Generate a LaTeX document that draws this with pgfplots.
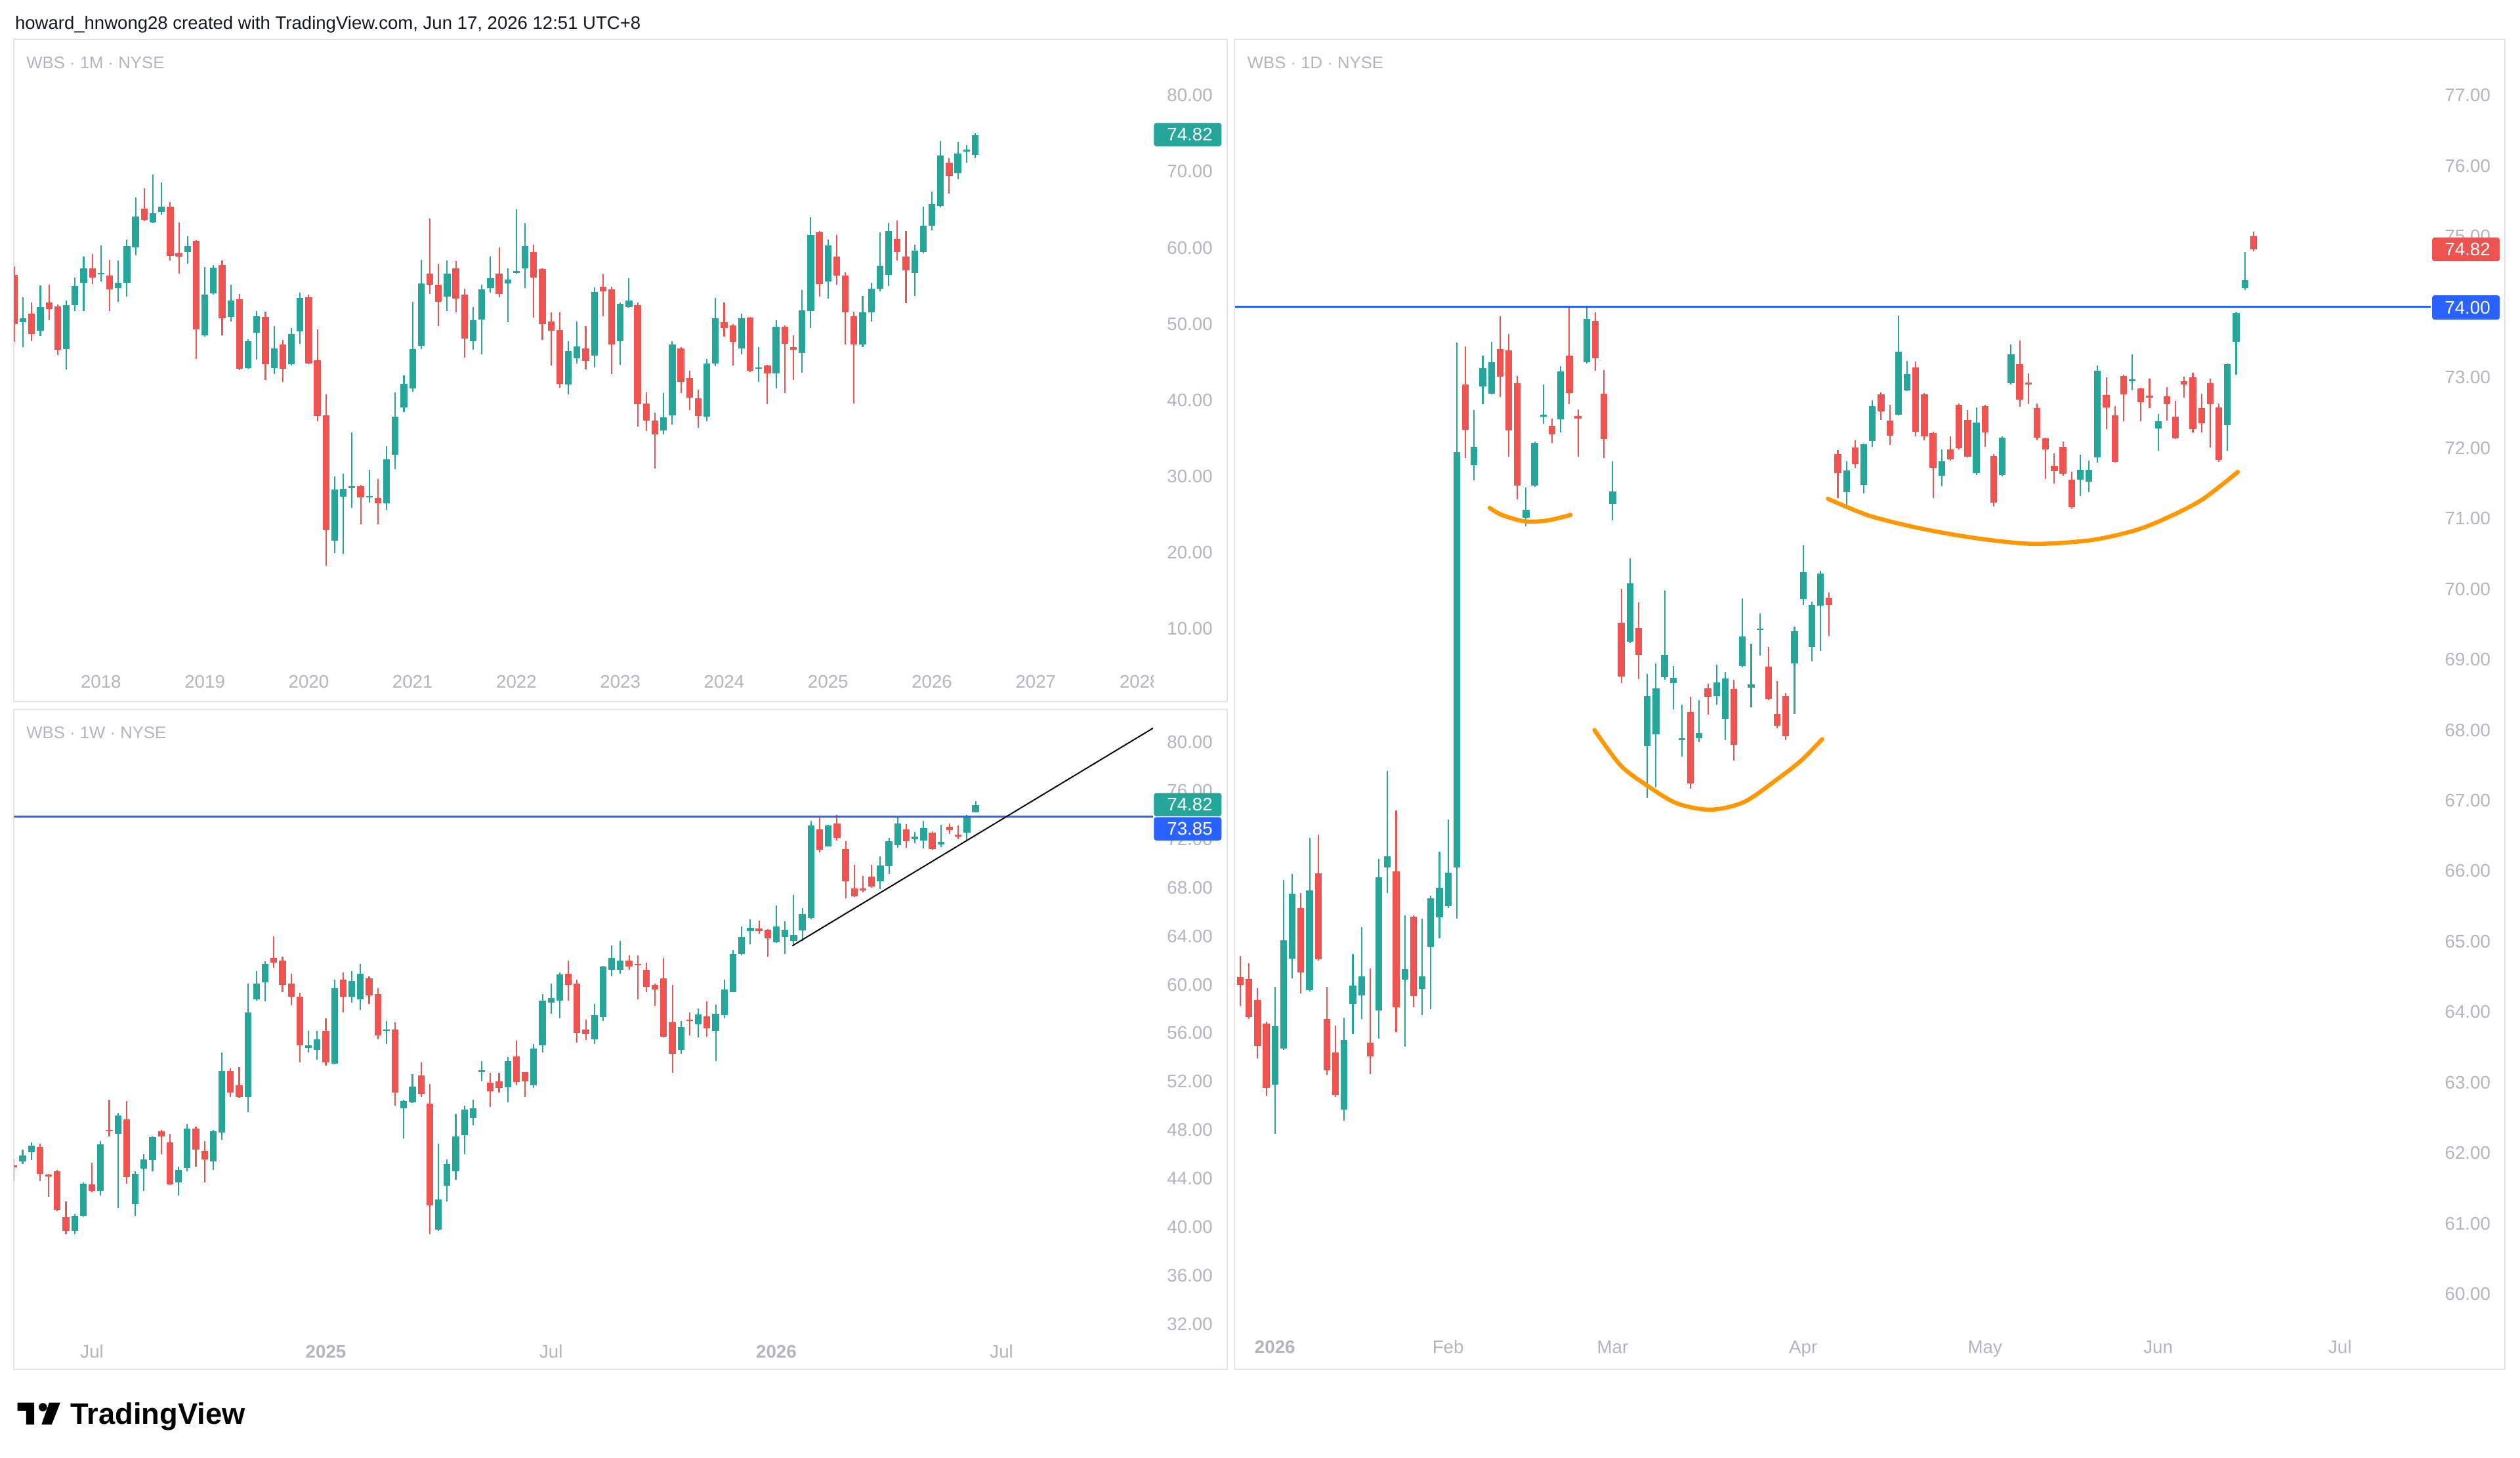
\documentclass[border=0pt]{standalone}
\usepackage{fontspec}
\setmainfont{Liberation Sans}
\usepackage{pgfplots}
\usepackage{pgfplotstable}
\pgfplotsset{compat=1.18}
\definecolor{tvup}{HTML}{26A69A}
\definecolor{tvdown}{HTML}{EF5350}
\definecolor{tvblue}{HTML}{2962FF}
\definecolor{tvorange}{HTML}{FF9800}
\definecolor{tvtext}{HTML}{B2B5BE}
\definecolor{tvborder}{HTML}{E0E3EB}
\definecolor{tvhead}{HTML}{131722}
\newcommand\tvs{\fontsize{11.3}{13}\selectfont}

\pgfplotstableread{
x o h l c
-10 56.4 57.5 47.6 50.0
-9 50.2 53.5 46.9 50.7
-8 51.3 52.8 47.7 48.7
-7 49.1 55.0 48.4 52.2
-6 52.8 55.1 50.5 51.9
-5 52.3 52.5 45.9 46.6
-4 46.7 53.1 44.0 52.5
-3 52.5 56.1 51.7 55.0
-2 55.4 58.8 51.7 57.3
-1 57.3 59.2 55.2 56.1
0 56.5 60.3 55.6 56.7
1 56.3 58.4 51.7 54.5
2 54.7 58.3 52.9 55.4
3 55.4 61.1 53.6 60.2
4 60.0 66.6 59.0 64.1
5 65.1 67.8 63.5 63.7
6 63.3 69.6 63.2 64.5
7 64.7 68.6 64.3 65.4
8 65.4 66.0 58.3 58.9
9 59.3 63.3 56.6 58.8
10 59.4 61.5 57.9 60.2
11 60.9 61.0 45.4 49.3
12 48.5 57.5 48.3 53.8
13 54.0 57.7 53.8 57.4
14 57.7 58.3 48.5 50.7
15 50.9 55.1 50.3 53.1
16 53.2 53.9 43.9 44.1
17 44.2 48.0 44.1 47.7
18 48.8 51.7 45.3 51.0
19 50.9 51.6 42.6 44.7
20 44.2 49.7 43.4 46.8
21 47.3 47.9 42.4 44.1
22 44.7 49.4 44.5 48.7
23 49.0 54.1 47.4 53.4
24 53.5 53.8 44.7 44.8
25 45.2 49.3 37.2 37.9
26 38.0 40.7 18.2 22.9
27 21.5 30.0 19.9 28.2
28 27.3 30.3 19.8 28.3
29 28.5 35.7 25.8 28.6
30 28.7 28.8 23.7 27.2
31 27.2 30.8 26.5 27.4
32 27.1 29.6 23.7 26.4
33 26.4 33.9 25.6 32.2
34 32.8 41.0 30.9 37.8
35 39.0 43.2 38.4 42.1
36 41.5 52.9 41.1 46.7
37 47.1 58.4 46.7 55.3
38 56.6 63.8 53.9 55.1
39 55.1 57.9 49.7 52.9
40 53.6 58.3 51.7 56.6
41 57.3 58.2 51.5 53.3
42 53.8 54.6 45.6 48.1
43 47.7 52.2 46.6 50.5
44 50.6 55.1 46.0 54.5
45 54.7 58.8 54.1 56.0
46 56.6 60.0 53.5 53.9
47 55.3 57.3 50.2 55.8
48 56.7 65.0 56.6 56.9
49 57.3 63.2 54.7 60.2
50 59.4 60.4 50.8 56.1
51 57.2 57.3 47.9 50.0
52 50.3 51.5 44.5 49.1
53 49.2 51.5 41.6 42.1
54 42.0 47.7 40.7 46.4
55 45.5 50.3 44.8 47.0
56 46.8 49.7 44.0 45.1
57 45.8 54.8 44.3 54.2
58 54.9 56.5 51.0 54.3
59 54.5 54.9 43.4 47.3
60 47.7 52.8 44.6 52.6
61 52.2 56.0 52.1 53.1
62 52.5 52.8 36.5 39.4
63 39.5 41.0 35.9 37.3
64 37.3 38.3 31.0 35.5
65 36.0 40.9 35.5 37.7
66 38.0 47.7 36.8 47.3
67 46.8 46.9 40.9 42.4
68 42.9 43.8 38.7 40.3
69 40.2 41.3 36.3 37.9
70 37.8 45.4 37.2 44.8
71 44.8 53.4 44.4 50.7
72 50.2 52.8 48.3 49.4
73 49.8 50.0 44.5 47.6
74 46.8 51.3 46.0 50.7
75 50.8 50.9 43.7 43.8
76 44.1 46.9 42.4 44.3
77 44.5 44.6 39.4 43.5
78 43.5 50.5 41.5 49.6
79 49.6 49.8 40.9 47.4
80 46.9 48.5 42.6 46.6
81 46.2 54.4 43.6 51.8
82 51.7 64.0 49.4 61.7
83 62.0 62.2 53.6 55.2
84 55.6 61.1 53.3 60.3
85 58.8 61.7 55.1 56.3
86 56.3 56.8 47.3 51.5
87 51.0 51.6 39.5 47.3
88 47.3 53.7 46.9 51.5
89 51.5 55.4 50.3 54.6
90 54.6 62.0 54.3 57.6
91 56.4 63.2 55.0 62.2
92 61.2 63.6 58.3 59.4
93 58.8 62.2 52.7 57.0
94 56.7 60.4 53.7 59.6
95 59.4 65.4 59.3 62.9
96 62.9 67.4 62.3 65.7
97 65.5 74.0 65.3 72.1
98 71.2 71.8 67.1 69.4
99 69.8 73.9 69.0 72.4
100 72.7 73.5 71.2 72.8
101 72.2 75.0 71.8 74.82
}\monthly

\pgfplotstableread{
x o h l c
-36 45.05 45.6 43.8 44.95
-35 45.4 46.4 45.2 45.9
-34 46.2 47.0 45.5 46.7
-33 46.6 46.9 43.8 44.4
-32 44.3 44.4 42.5 44.2
-31 44.6 44.7 41.3 41.4
-30 40.8 42.1 39.4 39.7
-29 39.7 41.1 39.4 40.9
-28 40.9 43.7 40.85 43.6
-27 43.5 45.3 42.9 43.0
-26 43.0 47.1 42.6 46.8
-25 48.0 50.5 47.5 47.9
-24 47.7 49.4 41.6 49.2
-23 48.9 50.4 43.6 44.1
-22 41.9 44.6 40.9 44.4
-21 44.8 46.0 43.0 45.6
-20 45.5 47.5 44.6 47.4
-19 47.9 48.0 46.0 47.5
-18 47.0 47.7 43.45 43.5
-17 43.7 45.0 42.6 44.7
-16 44.9 48.5 44.6 48.1
-15 48.1 48.3 45.0 46.4
-14 46.3 47.1 43.7 45.6
-13 45.4 48.0 44.7 47.9
-12 47.8 54.4 47.2 52.9
-11 52.9 53.1 50.7 51.1
-10 51.7 53.2 50.65 50.7
-9 50.7 60.1 49.5 57.7
-8 58.8 61.1 58.7 60.1
-7 60.2 61.9 58.6 61.7
-6 62.2 64.0 61.4 61.8
-5 62.0 62.3 59.4 60.0
-4 60.1 60.9 58.3 59.0
-3 59.0 59.3 53.6 55.0
-2 54.8 56.2 54.4 55.0
-1 54.6 56.2 53.8 55.5
0 56.2 57.2 53.3 53.6
1 53.5 60.4 53.45 59.7
2 60.4 61.0 57.7 59.0
3 59.0 61.1 58.5 60.3
4 58.8 61.7 57.9 60.9
5 60.5 60.7 58.4 59.1
6 59.2 59.7 55.5 55.8
7 56.2 57.0 55.1 56.3
8 56.3 56.9 50.0 51.1
9 49.8 50.5 47.3 50.4
10 50.3 52.6 50.25 51.6
11 52.5 53.6 50.7 51.0
12 50.2 51.8 39.4 41.8
13 39.8 46.9 39.7 42.3
14 43.4 45.6 42.1 45.2
15 44.6 49.3 43.9 47.5
16 47.6 50.0 46.0 49.7
17 49.0 50.5 48.4 49.8
18 52.8 53.7 52.0 52.9
19 51.9 52.7 49.9 51.2
20 52.0 52.7 51.1 51.5
21 51.55 54.0 50.3 53.7
22 54.05 55.4 51.7 51.95
23 52.75 52.8 50.7 52.0
24 51.7 55.1 51.5 54.7
25 55.0 59.2 54.4 58.7
26 58.5 60.1 57.6 58.9
27 58.7 61.0 57.2 60.85
28 60.9 62.0 58.7 60.0
29 60.1 60.4 55.2 56.0
30 56.3 57.1 55.4 55.9
31 55.5 58.4 55.1 57.5
32 57.3 61.55 57.0 61.48
33 61.2 63.2 60.7 62.2
34 61.2 63.6 60.9 62.0
35 62.0 62.4 61.2 61.5
36 61.67 62.4 58.8 61.63
37 61.2 61.8 59.4 59.8
38 60.0 60.1 58.25 59.6
39 60.5 62.2 55.65 55.7
40 56.9 60.0 52.7 54.3
41 54.6 57.0 54.3 56.5
42 57.09 57.7 55.8 57.04
43 56.7 58.0 55.65 57.55
44 57.4 58.6 55.7 56.4
45 56.2 58.35 53.7 57.6
46 57.5 60.4 57.2 59.6
47 59.4 62.85 59.4 62.5
48 62.5 64.8 62.4 63.9
49 64.4 65.4 63.3 64.66
50 64.64 65.3 64.2 64.4
51 64.5 64.55 62.3 63.8
52 63.5 66.5 63.45 64.8
53 63.9 65.2 62.5 64.5
54 63.6 67.4 63.2 64.1
55 64.45 66.3 63.6 65.8
56 65.5 73.5 65.4 73.1
57 72.8 73.9 70.9 71.1
58 71.4 73.2 71.38 73.1
59 73.3 74.0 71.85 72.1
60 71.2 71.8 67.1 68.5
61 67.9 69.9 67.2 67.3
62 67.9 68.95 67.6 67.8
63 68.9 69.9 68.0 68.1
64 68.5 70.6 67.9 69.8
65 69.75 72.1 69.1 71.8
66 71.5 73.9 71.3 73.3
67 72.8 73.25 71.3 71.8
68 71.97 72.6 71.65 72.19
69 71.9 73.5 71.2 72.9
70 72.55 72.65 71.1 71.15
71 71.56 73.2 71.34 71.78
72 73.03 73.3 72.4 72.72
73 72.31 73.1 72.0 72.26
74 72.5 73.97 71.8 73.92
75 74.23 75.1 74.2 74.82
}\weekly

\pgfplotstableread{
x o h l c
-4 64.50 64.79 64.09 64.38
-3 64.47 64.69 63.90 63.93
-2 64.17 64.34 63.34 63.52
-1 63.84 63.86 62.81 62.92
0 62.97 64.36 62.27 63.80
1 63.48 65.87 63.46 65.02
2 64.76 65.96 64.48 65.68
3 65.47 65.69 64.26 64.56
4 64.31 66.47 64.29 65.72
5 65.97 66.52 64.73 64.75
6 63.90 64.36 63.11 63.18
7 63.43 63.81 62.79 62.82
8 62.62 63.92 62.46 63.60
9 64.12 64.82 63.69 64.38
10 64.24 65.20 63.90 64.51
11 63.57 64.62 63.12 63.37
12 64.02 66.17 63.62 65.91
13 66.05 67.42 65.69 66.21
14 65.99 66.86 63.71 64.07
15 64.46 65.37 63.51 64.61
16 65.35 65.37 64.07 64.23
17 64.33 65.33 63.96 64.51
18 64.92 65.65 64.04 65.61
19 65.34 66.27 65.05 65.76
20 65.50 66.73 65.47 65.98
21 66.05 73.50 65.33 71.94
22 72.90 73.44 71.86 72.26
23 71.76 72.54 71.54 72.02
24 72.87 73.31 72.62 73.13
25 72.77 73.50 72.76 73.22
26 73.40 73.87 72.72 73.01
27 73.38 73.62 71.88 72.25
28 72.92 73.02 71.27 71.47
29 71.01 71.44 70.89 71.12
30 71.47 72.09 71.45 72.07
31 72.45 72.90 72.34 72.47
32 72.31 72.42 72.07 72.19
33 72.41 73.16 72.22 73.09
34 73.31 74.00 72.62 72.78
35 72.45 72.55 71.88 72.42
36 73.22 74.02 73.20 73.83
37 73.80 73.92 73.10 73.27
38 72.77 73.11 71.86 72.13
39 71.21 71.81 70.97 71.38
40 69.52 70.00 68.67 68.76
41 69.25 70.43 69.23 70.08
42 69.45 69.81 68.72 69.07
43 67.77 68.80 67.04 68.48
44 67.94 68.94 67.19 68.59
45 68.75 69.98 68.71 69.07
46 68.67 68.91 68.29 68.74
47 67.86 68.36 67.62 67.88
48 68.26 68.47 67.17 67.24
49 67.88 68.42 67.83 67.96
50 68.59 68.66 68.22 68.47
51 68.48 68.93 68.36 68.68
52 68.15 68.82 67.86 68.73
53 68.58 68.71 67.57 67.79
54 68.91 69.87 68.89 69.33
55 68.60 69.22 68.32 68.65
56 69.42 69.65 69.06 69.44
57 68.90 69.18 68.42 68.44
58 68.23 68.69 68.02 68.06
59 68.48 68.53 67.86 67.91
60 68.94 69.47 68.23 69.40
61 69.86 70.62 69.77 70.24
62 69.18 69.82 68.97 69.77
63 69.76 70.26 69.12 70.22
64 69.88 69.95 69.34 69.77
65 71.91 71.97 71.29 71.64
66 71.37 71.81 71.17 71.68
67 72.01 72.11 71.72 71.77
68 71.48 72.06 71.36 72.05
69 72.10 72.68 72.02 72.59
70 72.76 72.79 72.40 72.52
71 72.39 72.61 72.04 72.17
72 72.47 73.88 72.46 73.37
73 72.82 73.24 72.81 73.05
74 73.14 73.23 72.17 72.23
75 72.76 72.78 72.11 72.16
76 72.21 72.23 71.29 71.72
77 71.61 71.98 71.46 71.81
78 71.98 72.17 71.82 71.84
79 72.61 72.63 71.98 72.00
80 72.40 72.54 71.87 71.88
81 71.64 72.57 71.62 72.36
82 72.59 72.61 72.02 72.22
83 71.89 71.91 71.17 71.23
84 71.62 72.17 71.60 72.15
85 72.92 73.47 72.90 73.33
86 73.19 73.52 72.58 72.69
87 72.92 73.06 72.62 72.91
88 72.57 72.63 72.11 72.15
89 72.14 72.15 71.56 71.98
90 71.75 71.92 71.50 71.67
91 72.02 72.09 71.61 71.63
92 71.55 71.66 71.14 71.16
93 71.55 71.90 71.32 71.69
94 71.52 71.82 71.37 71.69
95 71.87 73.17 71.79 73.10
96 72.75 73.00 72.27 72.57
97 72.46 72.59 71.79 71.80
98 73.02 73.04 72.38 72.76
99 72.95 73.33 72.83 72.97
100 72.84 72.85 72.38 72.65
101 72.74 72.98 72.57 72.72
102 72.28 72.48 71.96 72.38
103 72.73 72.86 72.39 72.62
104 72.44 72.67 72.13 72.14
105 72.95 73.01 72.71 72.90
106 73.00 73.07 72.22 72.27
107 72.56 72.77 72.22 72.35
108 72.92 72.98 72.01 72.62
109 72.57 72.63 71.80 71.83
110 72.32 73.20 71.96 73.19
111 73.50 73.92 73.04 73.91
112 74.27 74.78 74.24 74.38
113 75.00 75.07 74.79 74.82
}\daily

% candlesticks: wick = thin error bar low..high, body = thick error bar open..close
\newcommand{\candles}[2]{%
  \addplot[draw=none, mark=none, forget plot,
    restrict expr to domain={\thisrow{c}-\thisrow{o}}{0:1000},
    error bars/.cd, y dir=both, y explicit, error mark=none,
    error bar style={draw=tvup, line width=0.85pt}]
    table[x=x, y expr={(\thisrow{h}+\thisrow{l})/2}, y error expr={(\thisrow{h}-\thisrow{l})/2}] {#1};
  \addplot[draw=none, mark=none, forget plot,
    restrict expr to domain={\thisrow{c}-\thisrow{o}}{0:1000},
    error bars/.cd, y dir=both, y explicit, error mark=none,
    error bar style={draw=tvup, line width=4.2pt}]
    table[x=x, y expr={(\thisrow{o}+\thisrow{c})/2}, y error expr={max(abs(\thisrow{c}-\thisrow{o})/2,#2)}] {#1};
  \addplot[draw=none, mark=none, forget plot,
    restrict expr to domain={\thisrow{c}-\thisrow{o}}{-1000:-0.000001},
    error bars/.cd, y dir=both, y explicit, error mark=none,
    error bar style={draw=tvdown, line width=0.85pt}]
    table[x=x, y expr={(\thisrow{h}+\thisrow{l})/2}, y error expr={(\thisrow{h}-\thisrow{l})/2}] {#1};
  \addplot[draw=none, mark=none, forget plot,
    restrict expr to domain={\thisrow{c}-\thisrow{o}}{-1000:-0.000001},
    error bars/.cd, y dir=both, y explicit, error mark=none,
    error bar style={draw=tvdown, line width=4.2pt}]
    table[x=x, y expr={(\thisrow{o}+\thisrow{c})/2}, y error expr={max(abs(\thisrow{c}-\thisrow{o})/2,#2)}] {#1};
}

\pgfplotsset{tvpane/.style={
  scale only axis, anchor=south west, clip=true,
  axis line style={draw=none}, major tick length=0pt, tick style={draw=none},
  yticklabel pos=right, scaled y ticks=false,
  yticklabel style={font=\tvs, text=tvtext, anchor=west, xshift=8.5pt, inner sep=0pt,
    /pgf/number format/fixed, /pgf/number format/fixed zerofill,
    /pgf/number format/precision=2, /pgf/number format/assume math mode=true},
  xticklabel style={font=\tvs, text=tvtext, anchor=base, inner sep=0pt},
}}

\begin{document}
\begin{tikzpicture}[x=1pt,y=1pt]
\fill[white] (0,0) rectangle (1568,907);

% pane borders
\draw[tvborder, line width=0.8pt] (8.7,470.5) rectangle (763.6,882.5);
\draw[tvborder, line width=0.8pt] (8.7,54.8) rectangle (763.6,465.6);
\draw[tvborder, line width=0.8pt] (768,55) rectangle (1558.6,882.5);

% header
\node[anchor=base west, inner sep=0pt, font=\fontsize{11.25}{13}\selectfont, text=tvhead] at (9.2,889.0)
  {howard\_hnwong28 created with TradingView.com, Jun 17, 2026 12:51 UTC+8};

% ---------- monthly ----------
\begin{axis}[tvpane, at={(8.7pt,495pt)}, width=708.8pt, height=387.5pt,
  xmin=-10.05, xmax=121.56, ymin=5.57, ymax=87.37,
  xtick={0,12,24,36,48,60,72,84,96,108},
  xticklabels={2018,2019,2020,2021,2022,2023,2024,2025,2026,2027},
  xticklabel style={yshift=-16pt},
  ytick={10,20,30,40,50,60,70,80}]
\candles{\monthly}{0.1}
\end{axis}
\begin{scope}
\clip (8.7,0) rectangle (717.5,907);
\node[anchor=base, inner sep=0pt, font=\tvs, text=tvtext] at (709.2,479) {2028};
\end{scope}

% ---------- weekly ----------
\begin{axis}[tvpane, at={(8.7pt,79pt)}, width=708.8pt, height=386.6pt,
  xmin=-36.0, xmax=95.5, ymin=31.47, ymax=82.70,
  xtick={-27,0,26,52,78},
  xticklabels={Jul,\textbf{2025},Jul,\textbf{2026},Jul},
  xticklabel style={yshift=-16.9pt},
  ytick={32,36,40,44,48,52,56,60,64,68,72,76,80}]
\candles{\weekly}{0.066}
\addplot[tvblue, line width=1.4pt, forget plot] coordinates {(-36,73.85) (95.5,73.85)};
\addplot[black, line width=0.8pt, forget plot] coordinates {(53.85,63.2) (95.5,81.15)};
\end{axis}

% ---------- daily ----------
\begin{axis}[tvpane, at={(768.5pt,81pt)}, width=744.1pt, height=801.5pt,
  xmin=-4.6, xmax=133.5, ymin=59.528, ymax=77.795,
  xtick={0,20,39,61,82,102,123},
  xticklabels={\textbf{2026},Feb,Mar,Apr,May,Jun,Jul},
  xticklabel style={yshift=-16pt},
  ytick={60,61,62,63,64,65,66,67,68,69,70,71,72,73,74,75,76,77}]
\candles{\daily}{0.012}
\addplot[tvblue, line width=1.4pt, forget plot] coordinates {(-4.6,74) (133.5,74)};
\addplot[tvorange, line width=2.6pt, line cap=round, smooth, forget plot] coordinates
  {(24.8,71.15) (26.2,71.05) (28.8,70.96) (31.4,70.97) (34.15,71.05)};
\addplot[tvorange, line width=2.6pt, line cap=round, smooth, forget plot] coordinates
  {(36.9,68.0) (39.9,67.50) (43.0,67.21) (46.4,66.96) (50.3,66.87) (54.2,66.98) (58.2,67.32) (60.8,67.57) (63.2,67.87)};
\addplot[tvorange, line width=2.6pt, line cap=round, smooth, forget plot] coordinates
  {(63.85,71.28) (68.6,71.04) (74.5,70.86) (81.0,70.72) (87.5,70.64) (94.1,70.69) (99.3,70.83) (103.2,71.02) (107.1,71.27) (111.2,71.66)};
\end{axis}

% pane titles
\node[anchor=base west, inner sep=0pt, font=\fontsize{10.5}{12}\selectfont, text=tvtext] at (16.3,864.4) {WBS · 1M · NYSE};
\node[anchor=base west, inner sep=0pt, font=\fontsize{10.5}{12}\selectfont, text=tvtext] at (16.3,447.5) {WBS · 1W · NYSE};
\node[anchor=base west, inner sep=0pt, font=\fontsize{10.5}{12}\selectfont, text=tvtext] at (776,864.4) {WBS · 1D · NYSE};

% price labels
\fill[tvup, rounded corners=1.5pt] (718,816) rectangle (760,830.5);
\node[anchor=west, inner sep=0pt, text=white, font=\tvs] at (726,823.25) {74.82};
\fill[tvup, rounded corners=1.5pt] (718,399) rectangle (760,413.5);
\node[anchor=west, inner sep=0pt, text=white, font=\tvs] at (726,406.25) {74.82};
\fill[tvblue, rounded corners=1.5pt] (718,384) rectangle (760,398.5);
\node[anchor=west, inner sep=0pt, text=white, font=\tvs] at (726,391.25) {73.85};
\fill[tvdown, rounded corners=1.5pt] (1513.3,744.4) rectangle (1555.4,759.1);
\node[anchor=west, inner sep=0pt, text=white, font=\tvs] at (1521,751.75) {74.82};
\fill[tvblue, rounded corners=1.5pt] (1513.3,708.1) rectangle (1555.4,723.2);
\node[anchor=west, inner sep=0pt, text=white, font=\tvs] at (1521,715.65) {74.00};

% TradingView logo
\fill[black] (10.9,34.1) -- (21.25,34.1) -- (21.25,20.6) -- (16.25,20.6) -- (16.25,29.1) -- (10.9,29.1) -- cycle;
\fill[black] (26.7,31.3) circle (2.6);
\fill[black] (30.6,34.1) -- (37.5,34.1) -- (32.2,20.6) -- (25.9,20.6) -- cycle;
\node[anchor=base west, inner sep=0pt, font=\bfseries\fontsize{18.5}{20}\selectfont, text=black] at (43.7,20.7) {TradingView};

\pgfresetboundingbox
\path[use as bounding box] (0,0) rectangle (1568,907);
\end{tikzpicture}
\end{document}
